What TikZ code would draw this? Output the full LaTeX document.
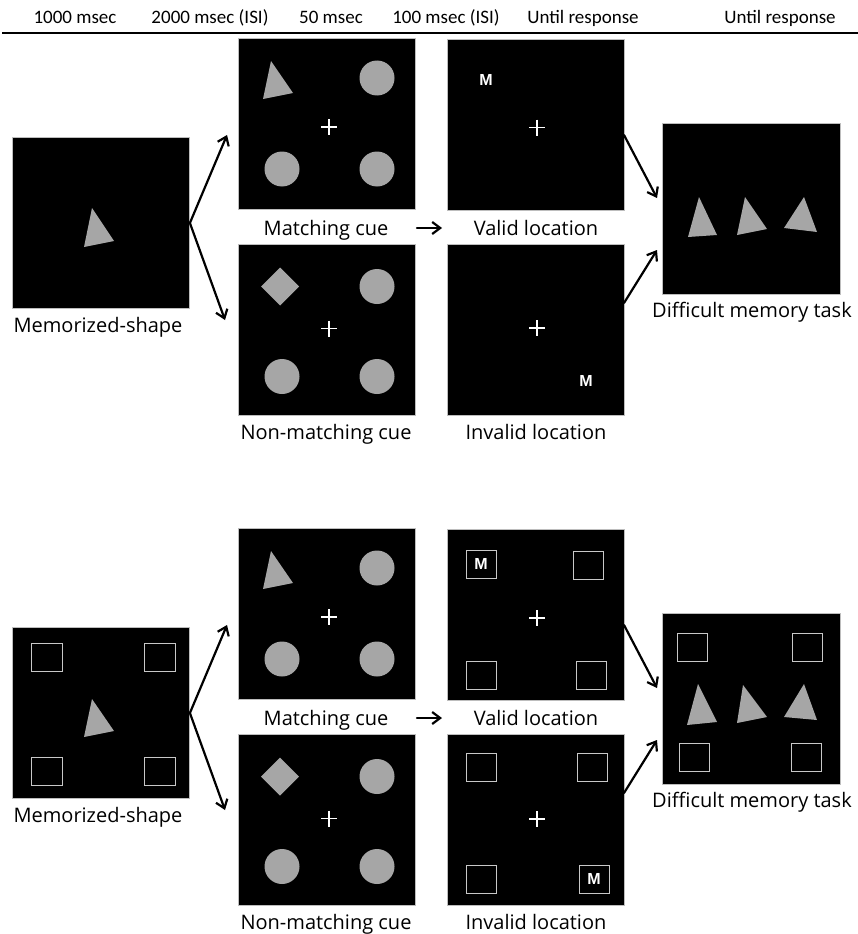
\documentclass[tikz,border=0pt]{standalone}
\usepackage{fontspec}
\setmainfont{Open Sans}
\newfontfamily\headfont{Carlito}
\newfontfamily\letterfont{Liberation Sans}
\usetikzlibrary{arrows.meta}

\definecolor{shapegray}{HTML}{A6A6A6}
\definecolor{edgegray}{HTML}{BDBDBD}
\definecolor{boxgray}{HTML}{C8C8C8}

\begin{document}
\begin{tikzpicture}[x=1pt,y=-1pt,
  panel/.style={draw=edgegray, line width=0.8pt, fill=black,
    minimum width=177pt, minimum height=171pt, inner sep=0pt},
  lbl/.style={anchor=base, font=\fontsize{20}{24}\selectfont, inner sep=0pt},
  hdr/.style={anchor=base, font=\headfont\fontsize{19}{22}\selectfont, inner sep=0pt},
  stim/.style={fill=shapegray},
  slot/.style={draw=boxgray, line width=1pt, minimum width=30pt,
    minimum height=28pt, inner sep=0pt},
  letter/.style={text=white, font=\letterfont\bfseries\fontsize{16}{18}\selectfont,
    inner sep=0pt},
  flow/.style={-{Straight Barb[length=8pt,width=12pt,line width=2.2pt]},
    line width=2.2pt, line cap=round},
  fixcross/.pic={\draw[white, line width=1.5pt] (-8,0) -- (8,0) (0,-8) -- (0,8);},
  disc/.pic={\fill[shapegray] (0,0) circle[radius=17.5];},
]
\useasboundingbox (0,0) rectangle (858,934);

% ---------- time line ----------
\node[hdr] (h1) at (75,24) {1000 msec};
\node[hdr] (h2) at (210,24) {2000 msec (ISI)};
\node[hdr] (h3) at (331,24) {50 msec};
\node[hdr] (h4) at (446,24) {100 msec (ISI)};
\node[hdr] (h5) at (583,24) {Until response};
\node[hdr] (h6) at (780,24) {Until response};
\coordinate (ruleL) at (2,33);
\coordinate (ruleR) at (858,33);
\draw[line width=2.4pt] (ruleL) -- (ruleR);

% ================= upper sequence =================
\node[panel] (mem1) at (101,223) {};
\node[panel] (match1) at (326.5,123.5) {};
\node[panel] (nonm1) at (326.5,329.5) {};
\node[panel] (valid1) at (535.5,125) {};
\node[panel] (inval1) at (535.5,329.5) {};
\node[panel, minimum width=178pt] (diff1) at (751,208.5) {};

\begin{scope}[shift={(mem1.center)}]
  \fill[stim] (-9,-15) -- (13,18) -- (-17,24) -- cycle;
\end{scope}

\begin{scope}[shift={(match1.center)}]
  \fill[stim] (-55.5,-62.5) -- (-33.5,-30.5) -- (-63.5,-24.5) -- cycle;
  \pic at (50.5,-45.5) {disc};
  \pic at (-44.5,45.5) {disc};
  \pic at (50.5,45.5) {disc};
  \pic at (2.5,3.5) {fixcross};
\end{scope}

\begin{scope}[shift={(nonm1.center)}]
  \fill[stim] (-46.5,-62) -- (-27.5,-43) -- (-46.5,-24) -- (-65.5,-43) -- cycle;
  \pic at (50.5,-43) {disc};
  \pic at (-44.5,47) {disc};
  \pic at (50.5,47) {disc};
  \pic at (2.5,-1) {fixcross};
\end{scope}

\begin{scope}[shift={(valid1.center)}]
  \node[letter] (mv1) at (-49.5,-45.5) {M};
  \pic at (1.5,2.5) {fixcross};
\end{scope}

\begin{scope}[shift={(inval1.center)}]
  \node[letter] (mi1) at (50.5,51.5) {M};
  \pic at (1.5,-1.5) {fixcross};
\end{scope}

\begin{scope}[shift={(diff1.center)}]
  \fill[stim] (-52,-11.5) -- (-34,26.5) -- (-63,28.5) -- cycle;
  \fill[stim] (-6,-11.5) -- (16,20.5) -- (-14,26.5) -- cycle;
  \fill[stim] (53,-11.5) -- (66,23.5) -- (33,19.5) -- cycle;
\end{scope}

\node[lbl] (lmem1) at (98,332) {Memorized-shape};
\node[lbl] (lmatch1) at (326,235) {Matching cue};
\node[lbl] (lnonm1) at (326,439) {Non-matching cue};
\node[lbl] (lvalid1) at (536,235) {Valid location};
\node[lbl] (linval1) at (536,439) {Invalid location};
\node[lbl] (ldiff1) at (752,317) {Difficult memory task};

\coordinate (a1) at (227,135);
\coordinate (a2) at (225,320);
\coordinate (a3s) at (417,228);
\coordinate (a3e) at (442,228);
\coordinate (a4s) at (624,135);
\coordinate (a4e) at (657,198);
\coordinate (a5s) at (624,303);
\coordinate (a5e) at (657,250);
\draw[flow] (mem1.east) -- (a1);
\draw[flow] (mem1.east) -- (a2);
\draw[flow] (a3s) -- (a3e);
\draw[flow] (a4s) -- (a4e);
\draw[flow] (a5s) -- (a5e);

% ================= lower sequence =================
\node[panel] (mem2) at (101,713) {};
\node[panel] (match2) at (326.5,613.5) {};
\node[panel] (nonm2) at (326.5,819.5) {};
\node[panel] (valid2) at (535.5,615) {};
\node[panel] (inval2) at (535.5,819.5) {};
\node[panel, minimum width=178pt] (diff2) at (751,698.5) {};

\begin{scope}[shift={(mem2.center)}]
  \node[slot, minimum width=31pt] (ms1) at (-54.5,-56) {};
  \node[slot, minimum width=31pt] (ms2) at (59,-56) {};
  \node[slot, minimum width=31pt] (ms3) at (-54.5,58.5) {};
  \node[slot, minimum width=31pt] (ms4) at (59,58.5) {};
  \fill[stim] (-9,-14) -- (13,18) -- (-17,24) -- cycle;
\end{scope}

\begin{scope}[shift={(match2.center)}]
  \fill[stim] (-55.5,-62.5) -- (-33.5,-30.5) -- (-63.5,-24.5) -- cycle;
  \pic at (50.5,-45.5) {disc};
  \pic at (-44.5,45.5) {disc};
  \pic at (50.5,45.5) {disc};
  \pic at (2.5,3.5) {fixcross};
\end{scope}

\begin{scope}[shift={(nonm2.center)}]
  \fill[stim] (-46.5,-62) -- (-27.5,-43) -- (-46.5,-24) -- (-65.5,-43) -- cycle;
  \pic at (50.5,-43) {disc};
  \pic at (-44.5,47) {disc};
  \pic at (50.5,47) {disc};
  \pic at (2.5,-1) {fixcross};
\end{scope}

\begin{scope}[shift={(valid2.center)}]
  \node[slot] (vs1) at (-54.5,-51) {};
  \node[letter] (mv2) at (vs1) {M};
  \node[slot] (vs2) at (52.5,-50) {};
  \node[slot] (vs3) at (-54.5,60) {};
  \node[slot] (vs4) at (55.5,60) {};
  \pic at (1.5,3) {fixcross};
\end{scope}

\begin{scope}[shift={(inval2.center)}]
  \node[slot] (is1) at (-54.5,-52) {};
  \node[slot] (is2) at (56.5,-52) {};
  \node[slot] (is3) at (-54.5,59.5) {};
  \node[slot] (is4) at (58.5,59.5) {};
  \node[letter] (mi2) at (is4) {M};
  \pic at (1.5,-0.5) {fixcross};
\end{scope}

\begin{scope}[shift={(diff2.center)}]
  \node[slot] (ds1) at (-59,-51) {};
  \node[slot] (ds2) at (56,-51) {};
  \node[slot] (ds3) at (-56.5,59) {};
  \node[slot] (ds4) at (55,59) {};
  \fill[stim] (-53,-14.5) -- (-34,23.5) -- (-64,26.5) -- cycle;
  \fill[stim] (-8,-13.5) -- (16,18.5) -- (-14,24.5) -- cycle;
  \fill[stim] (53,-14.5) -- (66,21.5) -- (33,18.5) -- cycle;
\end{scope}

\node[lbl] (lmem2) at (98,822) {Memorized-shape};
\node[lbl] (lmatch2) at (326,725) {Matching cue};
\node[lbl] (lnonm2) at (326,929) {Non-matching cue};
\node[lbl] (lvalid2) at (536,725) {Valid location};
\node[lbl] (linval2) at (536,929) {Invalid location};
\node[lbl] (ldiff2) at (752,807) {Difficult memory task};

\coordinate (b1) at (227,625);
\coordinate (b2) at (225,810);
\coordinate (b3s) at (417,718);
\coordinate (b3e) at (442,718);
\coordinate (b4s) at (624,625);
\coordinate (b4e) at (657,688);
\coordinate (b5s) at (624,793);
\coordinate (b5e) at (657,740);
\draw[flow] (mem2.east) -- (b1);
\draw[flow] (mem2.east) -- (b2);
\draw[flow] (b3s) -- (b3e);
\draw[flow] (b4s) -- (b4e);
\draw[flow] (b5s) -- (b5e);
\end{tikzpicture}
\end{document}
